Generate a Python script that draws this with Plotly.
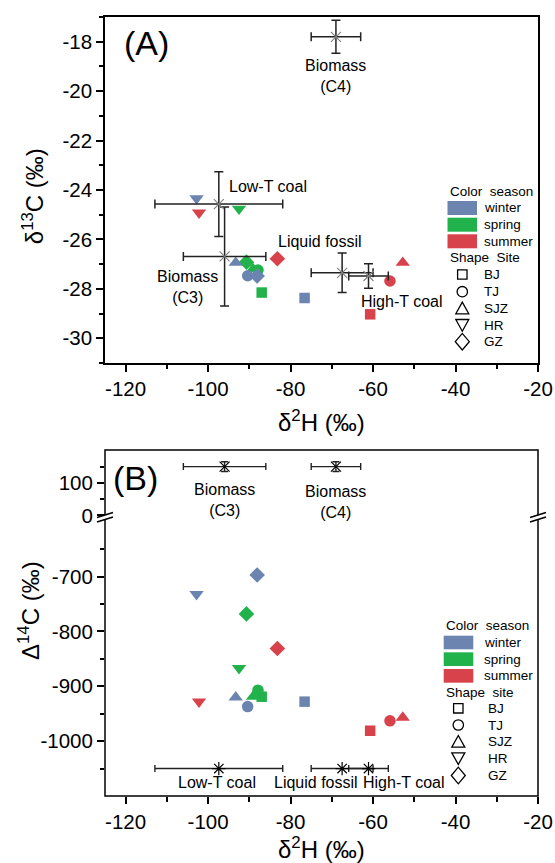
import plotly.graph_objects as go

# ---------------- data ----------------
seasons = ["winter", "spring", "summer"]
sites = ["BJ", "TJ", "SJZ", "HR", "GZ"]

# delta 2H (per mil), order of sites: BJ, TJ, SJZ, HR, GZ
d2H_winter = [-76.6, -90.4, -93.3, -102.8, -88.1]
d2H_spring = [-87.0, -87.9, -89.1, -92.5, -90.7]
d2H_summer = [-60.7, -55.9, -52.8, -102.2, -83.2]

# delta 13C (per mil)
d13C_winter = [-28.37, -27.47, -26.94, -24.34, -27.48]
d13C_spring = [-28.15, -27.24, -27.20, -24.76, -26.92]
d13C_summer = [-29.03, -27.68, -26.94, -24.92, -26.78]

# Delta 14C (per mil)
D14C_winter = [-928, -937, -920, -732, -697]
D14C_spring = [-919, -907, -919, -867, -768]
D14C_summer = [-981, -963, -957, -928, -831]

# source end-members
src_names = ["Biomass<br>(C3)", "Biomass<br>(C4)", "Low-T coal", "Liquid fossil", "High-T coal"]
src_d2H = [-96.0, -69.0, -97.4, -67.5, -61.1]
src_d2H_err = [10.0, 6.0, 15.5, 7.5, 4.8]
src_d13C = [-26.69, -17.80, -24.57, -27.35, -27.48]
src_d13C_err = [2.0, 0.67, 1.31, 0.8, 0.5]
src_D14C = [150, 150, -1050, -1050, -1050]
src_D14C_err = [15, 15, 0, 0, 0]

# tick values
x_ticks = [-120, -100, -80, -60, -40, -20]
yA_ticks = [-30, -28, -26, -24, -22, -20, -18]
yB_low_ticks = [-1000, -900, -800, -700]
yB_up_ticks = [0, 100]

# ---------------- style ----------------
W, H = 555, 863
ML, MR, MT, MB = 105, 17, 17, 67
PW = W - ML - MR
PH = H - MT - MB


def px(x):
    return (x - ML) / PW


def py(y):
    return (H - MB - y) / PH


FONT = "Liberation Sans, Arial, sans-serif"
season_color = {"winter": "#6B84B0", "spring": "#22B24C", "summer": "#D8434B"}
site_symbol = {"BJ": "square", "TJ": "circle", "SJZ": "triangle-up",
               "HR": "triangle-down", "GZ": "diamond"}
site_size = {"BJ": 10.5, "TJ": 11.5, "SJZ": 12.5, "HR": 12.5, "GZ": 12}
ERR = "#222222"

d2H = {"winter": d2H_winter, "spring": d2H_spring, "summer": d2H_summer}
d13C = {"winter": d13C_winter, "spring": d13C_spring, "summer": d13C_summer}
D14C = {"winter": D14C_winter, "spring": D14C_spring, "summer": D14C_summer}

fig = go.Figure()

# ---------- panel A: samples ----------
for s in ["spring", "winter", "summer"]:
    fig.add_trace(go.Scatter(
        x=d2H[s], y=d13C[s], mode="markers", xaxis="x", yaxis="y",
        marker=dict(symbol=[site_symbol[k] for k in sites],
                    size=[site_size[k] for k in sites], opacity=1,
                    color=season_color[s], line=dict(width=0)),
        showlegend=False, name=s))

# ---------- panel A: sources ----------
fig.add_trace(go.Scatter(
    x=src_d2H, y=src_d13C, mode="markers", xaxis="x", yaxis="y",
    marker=dict(symbol="x-thin-open", size=10, color="#808080", opacity=1,
                line=dict(width=1.1, color="#808080")),
    error_x=dict(type="data", array=src_d2H_err, color=ERR, thickness=1.5, width=4.5),
    error_y=dict(type="data", array=src_d13C_err, color=ERR, thickness=1.5, width=4.5),
    showlegend=False))

# ---------- panel B: samples ----------
for s in ["spring", "winter", "summer"]:
    fig.add_trace(go.Scatter(
        x=d2H[s], y=D14C[s], mode="markers", xaxis="x2", yaxis="y2",
        marker=dict(symbol=[site_symbol[k] for k in sites],
                    size=[site_size[k] for k in sites], opacity=1,
                    color=season_color[s], line=dict(width=0)),
        showlegend=False, name=s))

# ---------- panel B: sources ----------
up = [i for i, v in enumerate(src_D14C) if v > 0]
lo = [i for i, v in enumerate(src_D14C) if v <= 0]
fig.add_trace(go.Scatter(
    x=[src_d2H[i] for i in up], y=[src_D14C[i] for i in up], mode="markers",
    xaxis="x2", yaxis="y3",
    marker=dict(symbol="x-thin-open", size=10, color="black", opacity=1,
                line=dict(width=1.2, color="black")),
    error_x=dict(type="data", array=[src_d2H_err[i] for i in up], color=ERR, thickness=1.4, width=3.5),
    error_y=dict(type="data", array=[src_D14C_err[i] for i in up], color=ERR, thickness=1.4, width=3.5),
    showlegend=False))
fig.add_trace(go.Scatter(
    x=[src_d2H[i] for i in lo], y=[src_D14C[i] for i in lo], mode="markers",
    xaxis="x2", yaxis="y2",
    marker=dict(symbol="asterisk-open", size=11, color="black", opacity=1,
                line=dict(width=1.2, color="black")),
    error_x=dict(type="data", array=[src_d2H_err[i] for i in lo], color=ERR, thickness=1.4, width=3.5),
    showlegend=False))

# ---------- axes ----------
tickf = dict(family=FONT, size=20.5, color="black")
common = dict(showgrid=False, zeroline=False, ticks="outside", ticklen=7, tickwidth=1.5,
              tickcolor="black", tickfont=tickf, automargin=False)


def lab(vals):
    return [str(v) for v in vals]


xcommon = dict(common, range=[-125, -20], tickmode="array", tickvals=x_ticks, ticktext=lab(x_ticks),
               minor=dict(tickmode="linear", tick0=0, dtick=10, ticks="outside", ticklen=4.5,
                          tickwidth=1.5, tickcolor="black"))

fig.update_layout(
    xaxis=dict(xcommon, domain=[0, 1], anchor="y", showline=True, mirror=True,
               linecolor="black", linewidth=1.5),
    yaxis=dict(common, domain=[py(363), py(17)], anchor="x", range=[-31, -17],
               tickmode="array", tickvals=yA_ticks, ticktext=lab(yA_ticks),
               showline=True, mirror=True, linecolor="black", linewidth=1.5,
               minor=dict(tickmode="linear", tick0=0, dtick=1, ticks="outside", ticklen=4.5,
                          tickwidth=1.5, tickcolor="black")),
    xaxis2=dict(xcommon, domain=[0, 1], anchor="y2", showline=False),
    yaxis2=dict(common, domain=[0, py(519)], anchor="x2", range=[-1100, -595],
                tickmode="array", tickvals=yB_low_ticks, ticktext=lab(yB_low_ticks), showline=False,
                minor=dict(tickmode="array", tickvals=[-1050, -950, -850, -750, -650],
                           ticks="outside", ticklen=4.5, tickwidth=1.5, tickcolor="black")),
    yaxis3=dict(common, domain=[py(517), py(450)], anchor="x2", range=[-5, 201],
                tickmode="array", tickvals=yB_up_ticks, ticktext=lab(yB_up_ticks), showline=False,
                minor=dict(tickmode="array", tickvals=[50, 150],
                           ticks="outside", ticklen=4.5, tickwidth=1.5, tickcolor="black")),
)

# ---------- shapes ----------
shapes = []
# frame of panel B
shapes.append(dict(type="rect", xref="paper", yref="paper", x0=0, x1=1, y0=0, y1=py(450),
                   line=dict(color="black", width=1.5), fillcolor="rgba(0,0,0,0)", layer="above"))


def poly(pts):
    return "M " + " L ".join(f"{px(a):.5f},{py(b):.5f}" for a, b in pts) + " Z"


def seg(pts):
    return "M " + " L ".join(f"{px(a):.5f},{py(b):.5f}" for a, b in pts)


# axis break marks (left and right)
for ax in (ML, ML + PW):
    x0, x1 = ax - 8, ax + 8
    shapes.append(dict(type="path", xref="paper", yref="paper",
                       path=poly([(x0, 517.5), (x1, 512.5), (x1, 517), (x0, 522)]),
                       fillcolor="white", line=dict(width=0), layer="above"))
    shapes.append(dict(type="path", xref="paper", yref="paper",
                       path=seg([(x0, 517.5), (x1, 512.5)]),
                       line=dict(color="black", width=1.5), layer="above"))
    shapes.append(dict(type="path", xref="paper", yref="paper",
                       path=seg([(x0, 522), (x1, 517)]),
                       line=dict(color="black", width=1.5), layer="above"))

annotations = []


def txt(text, x, y, size, xanchor="left", yanchor="middle", align="left", xref="paper", yref="paper", **kw):
    annotations.append(dict(text=text, x=x, y=y, xref=xref, yref=yref, showarrow=False,
                            xanchor=xanchor, yanchor=yanchor, align=align,
                            font=dict(family=FONT, size=size, color="black"), **kw))


def legend(sw_x0, sw_x1, title1_y, sw_rows, lab_x, title2_y, title2, sym_x, sym_rows, lab2_x):
    txt("Color  season", px(sw_x0), py(title1_y), 13.5)
    for s, (ya, yb) in zip(seasons, sw_rows):
        shapes.append(dict(type="rect", xref="paper", yref="paper",
                           x0=px(sw_x0), x1=px(sw_x1), y0=py(yb), y1=py(ya),
                           fillcolor=season_color[s], line=dict(width=0), layer="above"))
        txt(s, px(lab_x), py((ya + yb) / 2), 13.5)
    txt(title2, px(sw_x0), py(title2_y), 13.5)
    for k, cy in zip(sites, sym_rows):
        cx = sym_x
        ln = dict(color="black", width=1.3)
        if k == "BJ":
            shapes.append(dict(type="rect", xref="paper", yref="paper", x0=px(cx - 4.7), x1=px(cx + 4.7),
                               y0=py(cy + 4.7), y1=py(cy - 4.7), line=ln, layer="above"))
        elif k == "TJ":
            shapes.append(dict(type="circle", xref="paper", yref="paper", x0=px(cx - 5.2), x1=px(cx + 5.2),
                               y0=py(cy + 5.2), y1=py(cy - 5.2), line=ln, layer="above"))
        elif k == "SJZ":
            shapes.append(dict(type="path", xref="paper", yref="paper",
                               path=poly([(cx - 6.5, cy + 5.5), (cx + 6.5, cy + 5.5), (cx, cy - 6.2)]),
                               line=ln, layer="above"))
        elif k == "HR":
            shapes.append(dict(type="path", xref="paper", yref="paper",
                               path=poly([(cx - 6.5, cy - 5.5), (cx + 6.5, cy - 5.5), (cx, cy + 6.2)]),
                               line=ln, layer="above"))
        else:
            shapes.append(dict(type="path", xref="paper", yref="paper",
                               path=poly([(cx - 7, cy), (cx, cy - 8.3), (cx + 7, cy), (cx, cy + 8.3)]),
                               line=ln, layer="above"))
        txt(k, px(lab2_x), py(cy), 13.5)


legend(447.5, 477, 191.7, [(201, 215), (217.7, 231.7), (234.3, 248.3)], 481.7,
       257.7, "Shape  Site", 462.3, [274.5, 291.7, 308.3, 325, 341.7], 481.7)
legend(443.7, 473.3, 625.7, [(635.7, 649.3), (652.3, 666), (669, 682.7)], 481.7,
       692.3, "Shape  site", 458.3, [708.3, 725, 741.7, 758.3, 775.5], 485.7)

# panel labels
txt("(A)", px(146), py(42.7), 34, xanchor="center")
txt("(B)", px(135), py(478.3), 34, xanchor="center")

# axis titles
txt("δ<sup>13</sup>C (‰)", px(32.5), py(196.7), 24, xanchor="center", textangle=-90)
txt("Δ<sup>14</sup>C (‰)", px(29), py(611), 24, xanchor="center", textangle=-90)
txt("δ<sup>2</sup>H (‰)", px(321.5), py(421), 24, xanchor="center")
txt("δ<sup>2</sup>H (‰)", px(321.5), py(848), 24, xanchor="center")

# source labels, panel A (data coordinates)
labA = [(-105.0, -27.93, "center", "center"), (-69.0, -19.40, "center", "center"),
        (-95.3, -23.87, "left", "left"), (-83.6, -26.07, "left", "left"),
        (-63.5, -28.53, "left", "left")]
for name, (lx, ly, xa, al) in zip(src_names, labA):
    txt(name, lx, ly, 16, xanchor=xa, align=al, xref="x", yref="y")

# source labels, panel B
labB = [(-96.0, 46.0, "y3"), (-69.0, 42.0, "y3"), (-97.9, -1076, "y2"),
        (-73.8, -1076, "y2"), (-52.4, -1076, "y2")]
for name, (lx, ly, yr) in zip(src_names, labB):
    txt(name, lx, ly, 16, xanchor="center", align="center", xref="x2", yref=yr)

fig.update_layout(
    width=W, height=H, margin=dict(l=ML, r=MR, t=MT, b=MB, pad=0, autoexpand=False),
    paper_bgcolor="white", plot_bgcolor="white",
    font=dict(family=FONT, color="black"),
    shapes=shapes, annotations=annotations, showlegend=False,
)

fig.write_html("out.html")
